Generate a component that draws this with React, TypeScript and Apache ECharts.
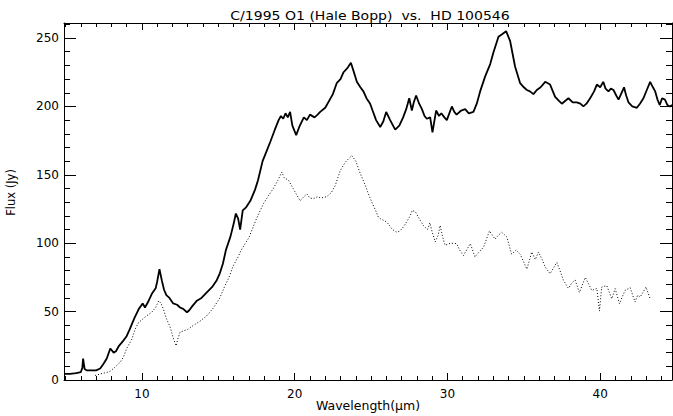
import React, { useEffect, useRef } from "react";
import * as echarts from "echarts";

// HD 100546 (solid)
const WAVE_STAR = [
  4.9, 5.3, 5.7, 6.0, 6.1, 6.15, 6.25, 6.4, 6.7, 7.0, 7.27, 7.5, 7.7, 7.93, 8.15, 8.3, 8.5, 8.8, 9.0, 9.2, 9.5, 9.8,
  10.05, 10.2, 10.4, 10.65, 10.9, 11.0, 11.15, 11.3, 11.45, 11.6, 11.8, 12.05, 12.3, 12.5, 12.7, 12.95, 13.1,
  13.3, 13.6, 13.9, 14.25, 14.6, 14.9, 15.1, 15.3, 15.5, 15.8, 16.0, 16.15, 16.3, 16.43, 16.6, 16.8, 17.1, 17.4,
  17.6, 17.9, 18.15, 18.4, 18.7, 18.95, 19.1, 19.25, 19.4, 19.55, 19.7, 19.85, 20.1, 20.3, 20.6, 20.8, 21.0,
  21.3, 21.5, 21.67, 22.0, 22.3, 22.5, 22.75, 23.0, 23.2, 23.45, 23.68, 23.85, 24.07, 24.3, 24.5, 24.7, 24.94, 25.1,
  25.33, 25.6, 25.8, 25.99, 26.25, 26.58, 26.85, 27.1, 27.3, 27.5, 27.67, 27.8, 27.95, 28.15, 28.33, 28.5, 28.65,
  28.87, 29.02, 29.26, 29.45, 29.6, 29.8, 29.96, 30.29, 30.45, 30.6, 30.9, 31.16, 31.4, 31.7, 31.92, 32.14,
  32.47, 32.8, 33.0, 33.34, 33.6, 33.84, 34.1, 34.43, 34.76, 35.0, 35.2, 35.4, 35.63, 35.85, 36.1, 36.4, 36.72,
  37.05, 37.3, 37.49, 37.7, 37.92, 38.2, 38.47, 38.7, 38.9, 39.1, 39.34, 39.6, 39.78, 40.0, 40.2, 40.35, 40.54,
  40.7, 40.87, 41.05, 41.2, 41.4, 41.56, 41.7, 41.85, 42.1, 42.4, 42.6, 42.83, 43.05, 43.27, 43.45, 43.6, 43.75,
  43.9, 44.05, 44.24, 44.4, 44.57, 44.7,
];
const FLUX_STAR = [
  4.5, 4.5, 5, 5.7, 9, 15.7, 8, 7, 7, 7, 8.4, 12, 15.7, 23, 20, 21, 25, 29, 32, 37, 45, 52,
  56, 53, 57, 63, 67, 72, 81, 73, 66, 62, 60, 56, 55, 53, 52, 49.5, 51,
  54, 58, 60, 64, 68, 73, 78, 85, 95, 105, 114, 121.7, 118, 110, 124, 126, 131, 139,
  146, 160, 167, 174, 183, 190, 193, 191, 195, 192, 196, 186, 179, 185, 192, 190, 194,
  192, 194, 196, 199, 205, 209, 217, 220, 225, 228, 232, 226, 218, 214, 211, 206, 202, 197,
  190, 185, 189, 196, 190, 183, 186, 192, 198, 206, 197, 203, 208, 202, 198, 193, 191,
  192, 181, 197, 193, 195, 192, 190, 200, 196, 194, 197, 198, 195, 196, 202, 211,
  222, 231, 239, 251, 253, 255, 248, 229, 217, 214, 212, 211, 209, 212, 214, 218, 216,
  207, 204, 202, 204, 206, 203, 203, 202, 200, 202, 206, 211, 216, 214, 218, 213, 211,
  213, 212, 208, 205, 210, 214, 208, 203, 200, 199, 202, 206, 212, 218, 214, 211, 205,
  201, 206, 205, 201, 200, 201,
];

// C/1995 O1 Hale-Bopp (dotted)
const WAVE_COMET = [
  6.94, 7.3, 7.7, 7.93, 8.2, 8.58, 8.8, 9.0, 9.2, 9.35, 9.55, 9.78, 10.0, 10.2, 10.45, 10.65, 10.9, 11.1, 11.25, 11.4,
  11.6, 11.85, 12.07, 12.24, 12.35, 12.5, 12.75, 13.0, 13.38, 13.8, 14.25, 14.7, 15.1, 15.4, 15.7, 16.0, 16.3,
  16.5, 17.0, 17.5, 17.96, 18.3, 18.6, 18.9, 19.16, 19.3, 19.6, 19.9, 20.1, 20.36, 20.6, 20.8, 21.0, 21.23, 21.5,
  21.7, 22.1, 22.4, 22.65, 22.98, 23.3, 23.55, 23.74, 24.0, 24.29, 24.6, 24.83, 25.05, 25.3, 25.48, 25.6, 26.03,
  26.4, 26.69, 26.9, 27.12, 27.35, 27.56, 27.7, 27.9, 28.2, 28.43, 28.7, 28.85, 28.98, 29.2, 29.4, 29.52, 29.7,
  29.85, 30.2, 30.6, 30.8, 31.05, 31.3, 31.5, 31.8, 32.1, 32.36, 32.75, 33.12, 33.35, 33.56, 33.89, 34.2, 34.5,
  34.76, 35.0, 35.2, 35.52, 35.75, 35.96, 36.2, 36.4, 36.72, 37.16, 37.4, 37.59, 37.92, 38.15, 38.36, 38.64,
  39.02, 39.25, 39.45, 39.78, 39.95, 40.1, 40.43, 40.6, 40.76, 40.98, 41.26, 41.45, 41.63, 41.96, 42.28, 42.45,
  42.61, 42.8, 43.0, 43.15, 43.27,
];
const FLUX_COMET = [
  3.3, 4.5, 5.5, 6.5, 9, 13, 17, 23, 27, 30, 37, 42, 44, 46, 48, 49.6, 53, 58, 56, 52,
  45, 38.7, 30, 25, 30, 35, 36, 37, 40, 43, 47, 53, 60, 68, 75, 84, 90,
  95, 104, 118, 129, 135, 140, 146, 152, 148, 146, 140, 136, 131, 134, 136, 133, 132.6, 134,
  133, 134, 137, 142, 153, 159, 162, 164, 160, 151, 143, 136, 130, 124, 119, 118, 115.5,
  110, 108, 109, 112, 116, 120, 124, 123, 117, 113, 110, 115, 109, 101, 106, 113, 104,
  98.5, 100, 99.7, 95, 91, 96, 99.7, 90, 94, 97, 109, 103, 106, 108, 104.5, 92, 95,
  92, 86, 81, 93.6, 88, 93.6, 88, 82.6, 77.7, 86, 79, 73, 67, 71, 73, 64,
  75, 70, 65.5, 67, 50.4, 68, 69, 64, 59.4, 66.8, 55.8, 61, 65.5, 67.5, 57, 62,
  60.6, 64, 68, 63, 59.4,
];

const X_MAJOR = [10, 20, 30, 40];
const X_MINOR = [5, 6, 7, 8, 9, 11, 12, 13, 14, 15, 16, 17, 18, 19, 21, 22, 23, 24, 25, 26, 27, 28, 29, 31, 32, 33, 34, 35, 36, 37, 38, 39, 41, 42, 43, 44];
const Y_MAJOR = [0, 50, 100, 150, 200, 250];
const Y_MINOR = [10, 20, 30, 40, 60, 70, 80, 90, 110, 120, 130, 140, 160, 170, 180, 190, 210, 220, 230, 240, 260];

const TITLE = "C/1995 O1 (Hale Bopp)  vs.  HD 100546";
const X_NAME = "Wavelength(μm)";
const Y_NAME = "Flux (Jy)";
const FONT = "DejaVu Sans";

const X_MIN = 4.9;
const X_MAX = 44.7;
const Y_MIN = 0;
const Y_MAX = 261;

export default function App() {
  const ref = useRef<HTMLDivElement>(null);

  useEffect(() => {
    if (!ref.current) return;
    const chart = echarts.init(ref.current, null, { renderer: "svg" });

    const lineCol = "#000";
    const mkX = (pos: "top" | "bottom", values: number[], len: number, showLine: boolean, labels: boolean, name?: string) => ({
      type: "value",
      position: pos,
      min: X_MIN,
      max: X_MAX,
      name: name,
      nameLocation: "middle",
      nameGap: 19,
      nameMoveOverlap: false,
      nameTextStyle: { color: "#000", fontFamily: FONT, fontSize: 12.5 },
      axisLine: { show: showLine, onZero: false, lineStyle: { color: lineCol, width: 1 } },
      axisTick: { show: true, inside: true, length: len, customValues: values, lineStyle: { color: lineCol, width: 1 } },
      axisLabel: labels
        ? { show: true, customValues: X_MAJOR, color: "#000", fontFamily: FONT, fontSize: 12, margin: 8 }
        : { show: false },
      splitLine: { show: false },
    });
    const mkY = (pos: "left" | "right", values: number[], len: number, showLine: boolean, labels: boolean, name?: string) => ({
      type: "value",
      position: pos,
      min: Y_MIN,
      max: Y_MAX,
      name: name,
      nameLocation: "middle",
      nameGap: 47,
      nameRotate: 90,
      nameTextStyle: { color: "#000", fontFamily: FONT, fontSize: 11.5, padding: [0, 0, 0, 18] },
      axisLine: { show: showLine, onZero: false, lineStyle: { color: lineCol, width: 1 } },
      axisTick: { show: true, inside: true, length: len, customValues: values, lineStyle: { color: lineCol, width: 1 } },
      axisLabel: labels
        ? { show: true, customValues: Y_MAJOR, color: "#000", fontFamily: FONT, fontSize: 12, margin: 5 }
        : { show: false },
      splitLine: { show: false },
    });

    const starData = WAVE_STAR.map((w, i) => [w, FLUX_STAR[i]]);
    const cometData = WAVE_COMET.map((w, i) => [w, FLUX_COMET[i]]);

    chart.setOption({
      animation: false,
      backgroundColor: "#fff",
      grid: { left: 64, right: 1, top: 23, bottom: 36, containLabel: false, outerBoundsMode: "none" },
      graphic: [
        {
          type: "text",
          x: 370,
          y: 16,
          scaleX: 1.17,
          style: {
            text: TITLE,
            fill: "#000",
            font: `12px ${FONT}`,
            textAlign: "center",
            textVerticalAlign: "middle",
          },
        },
      ],
      xAxis: [
        mkX("bottom", X_MAJOR, 7, true, true, X_NAME),
        mkX("bottom", X_MINOR, 4, false, false),
        mkX("top", X_MAJOR, 7, true, false),
        mkX("top", X_MINOR, 4, false, false),
      ],
      yAxis: [
        mkY("left", Y_MAJOR, 12, true, true, Y_NAME),
        mkY("left", Y_MINOR, 6, false, false),
        mkY("right", Y_MAJOR, 12, true, false),
        mkY("right", Y_MINOR, 6, false, false),
      ],
      series: [
        {
          type: "line",
          name: "HD 100546",
          data: starData,
          xAxisIndex: 0,
          yAxisIndex: 0,
          showSymbol: false,
          symbol: "none",
          lineStyle: { color: "#000", width: 1.8 },
          z: 3,
        },
        {
          type: "line",
          name: "C/1995 O1",
          data: cometData,
          xAxisIndex: 0,
          yAxisIndex: 0,
          showSymbol: false,
          symbol: "none",
          lineStyle: { color: "#000", width: 1, type: [1, 2] },
          z: 2,
        },
      ],
    });

    return () => chart.dispose();
  }, []);

  return (
    <div
      ref={ref}
      style={{ position: "fixed", left: 0, top: 0, width: 673, height: 416, background: "#fff" }}
    />
  );
}
